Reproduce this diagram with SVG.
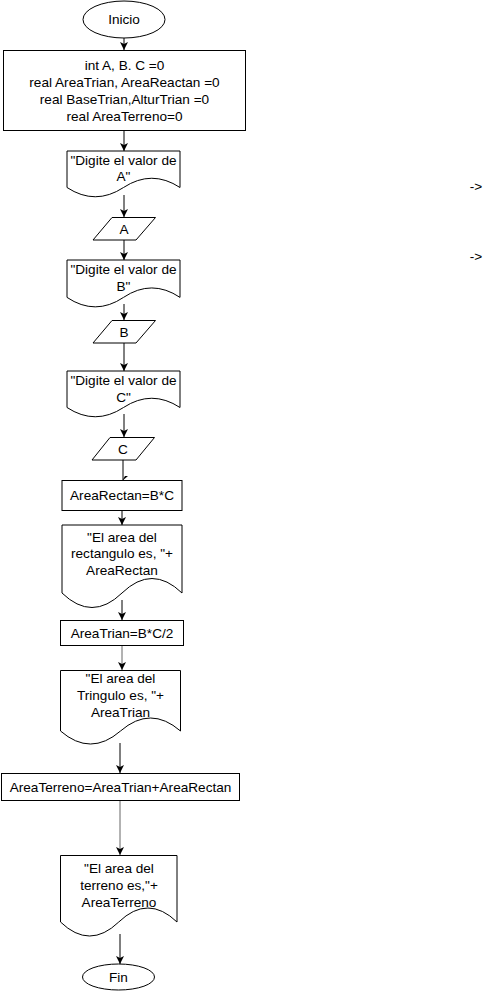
<svg xmlns="http://www.w3.org/2000/svg" width="497" height="991" viewBox="0 0 497 991">
<style>
.s{fill:#fff;stroke:#000;stroke-width:1}
.t{font-family:"Liberation Sans",Arial,sans-serif;font-size:13.6px;fill:#000;text-anchor:middle;dominant-baseline:central}
.c{fill:none;stroke:#000;stroke-width:1}
.g{stroke:#666}
</style>
<defs>
<marker id="ah" markerUnits="userSpaceOnUse" markerWidth="10" markerHeight="10" refX="8" refY="4" orient="auto">
<path d="M0,0 L8,4 L0,8 L2,4 Z" fill="#000"/>
</marker>
</defs>
<rect width="497" height="991" fill="#fff"/>
<g id="connectors">
<line class="c" x1="124" y1="38" x2="124" y2="50" marker-end="url(#ah)"/>
<line class="c" x1="124" y1="130.5" x2="124" y2="151" marker-end="url(#ah)"/>
<line class="c" x1="124" y1="195" x2="124" y2="217" marker-end="url(#ah)"/>
<line class="c" x1="124" y1="240" x2="124" y2="260" marker-end="url(#ah)"/>
<line class="c" x1="124" y1="304" x2="124" y2="320" marker-end="url(#ah)"/>
<line class="c" x1="124" y1="343" x2="124" y2="371" marker-end="url(#ah)"/>
<line class="c" x1="124" y1="414" x2="124" y2="437" marker-end="url(#ah)"/>
<line class="c" x1="123" y1="460" x2="123" y2="480"/>
<path d="M128,476 L122,481 L125,476 Z" fill="#000"/>
<line class="c" x1="122" y1="511" x2="122" y2="525" marker-end="url(#ah)"/>
<line class="c" x1="122" y1="600" x2="122" y2="620" stroke-width="2" marker-end="url(#ah)"/>
<line class="c g" x1="122" y1="645" x2="122" y2="670" marker-end="url(#ah)"/>
<line class="c" x1="120" y1="743" x2="120" y2="773" marker-end="url(#ah)"/>
<line class="c g" x1="120" y1="800" x2="120" y2="855" marker-end="url(#ah)"/>
<line class="c" x1="120" y1="934" x2="120" y2="964" marker-end="url(#ah)"/>
</g>
<g id="inicio">
<ellipse class="s" cx="124" cy="19.5" rx="41" ry="18.5"/>
<text class="t" x="124" y="19.5">Inicio</text>
</g>
<g id="decl">
<rect class="s" x="3.5" y="50.5" width="242" height="80"/>
<text class="t" x="124.5" y="65">int A, B. C =0</text>
<text class="t" x="124.5" y="82">real AreaTrian, AreaReactan =0</text>
<text class="t" x="124.5" y="99">real BaseTrian,AlturTrian =0</text>
<text class="t" x="124.5" y="116">real AreaTerreno=0</text>
</g>
<g id="docA">
<path class="s" d="M67,151 H180 V187.5 Q151.75,169 123.5,187.5 Q95.25,206 67,187.5 Z"/>
<text class="t" x="123.5" y="160">"Digite el valor de</text>
<text class="t" x="123.5" y="176">A"</text>
</g>
<g id="inA">
<path class="s" d="M112,217.5 H155.5 L136,240 H93 Z"/>
<text class="t" x="124" y="229">A</text>
</g>
<g id="docB">
<path class="s" d="M67,260 H180 V297.4 Q151.75,278.5 123.5,297.4 Q95.25,316.3 67,297.4 Z"/>
<text class="t" x="123.5" y="269">"Digite el valor de</text>
<text class="t" x="123.5" y="286">B"</text>
</g>
<g id="inB">
<path class="s" d="M112,320.5 H155.5 L136,343 H93 Z"/>
<text class="t" x="124" y="332">B</text>
</g>
<g id="docC">
<path class="s" d="M67,371 H180 V407.5 Q151.75,389 123.5,407.5 Q95.25,426 67,407.5 Z"/>
<text class="t" x="123.5" y="380">"Digite el valor de</text>
<text class="t" x="123.5" y="397">C"</text>
</g>
<g id="inC">
<path class="s" d="M110,437.5 H154.5 L136,460 H92 Z"/>
<text class="t" x="123" y="449">C</text>
</g>
<g id="calcRect">
<rect class="s" x="62" y="480.5" width="120" height="30"/>
<text class="t" x="122" y="495.5">AreaRectan=B*C</text>
</g>
<g id="docRect">
<path class="s" d="M62,525 H182 V593 Q152,564 122,593 Q92,622 62,593 Z"/>
<text class="t" x="122" y="537">"El area del</text>
<text class="t" x="122" y="553.5">rectangulo es, "+</text>
<text class="t" x="122" y="570">AreaRectan</text>
</g>
<g id="calcTrian">
<rect class="s" x="60.5" y="620.5" width="123" height="25"/>
<text class="t" x="122" y="633">AreaTrian=B*C/2</text>
</g>
<g id="docTrian">
<path class="s" d="M60.5,670.5 H180.5 V731 Q150.5,705 120.5,731 Q90.5,757 60.5,731 Z"/>
<text class="t" x="120.5" y="678.5">"El area del</text>
<text class="t" x="120.5" y="695.5">Tringulo es, "+</text>
<text class="t" x="120.5" y="712.5">AreaTrian</text>
</g>
<g id="calcTerreno">
<rect class="s" x="1.5" y="773.5" width="238" height="27"/>
<text class="t" x="120.5" y="787">AreaTerreno=AreaTrian+AreaRectan</text>
</g>
<g id="docTerreno">
<path class="s" d="M60.5,855.5 H177 V922 Q147.9,894 118.75,922 Q89.6,950 60.5,922 Z"/>
<text class="t" x="119" y="868">"El area del</text>
<text class="t" x="119" y="885.5">terreno es,"+</text>
<text class="t" x="119" y="902.5">AreaTerreno</text>
</g>
<g id="fin">
<ellipse class="s" cx="118.5" cy="977" rx="36" ry="13"/>
<text class="t" x="118.5" y="977">Fin</text>
</g>
<g id="notes">
<text class="t" x="476" y="186" font-size="11">-&gt;</text>
<text class="t" x="476" y="256" font-size="11">-&gt;</text>
</g>
</svg>
